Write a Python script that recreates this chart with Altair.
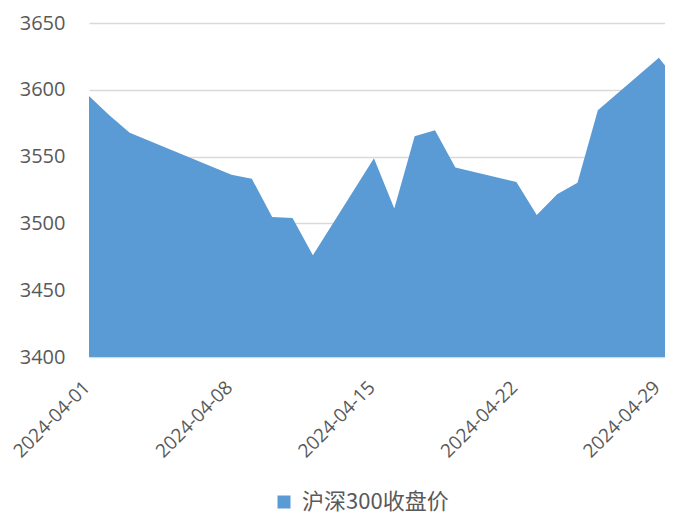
import altair as alt
import pandas as pd

dates = ["2024-04-01", "2024-04-02", "2024-04-03", "2024-04-08", "2024-04-09",
         "2024-04-10", "2024-04-11", "2024-04-12", "2024-04-15", "2024-04-16",
         "2024-04-17", "2024-04-18", "2024-04-19", "2024-04-22", "2024-04-23",
         "2024-04-24", "2024-04-25", "2024-04-26", "2024-04-29", "2024-04-30"]
closes = [3595.4, 3581.0, 3567.8, 3536.4, 3533.4,
          3504.7, 3504.0, 3476.1, 3548.8, 3511.2,
          3565.3, 3569.8, 3541.9, 3530.9, 3506.2,
          3521.9, 3530.4, 3584.7, 3623.9, 3605.0]
series_name = "沪深300收盘价"
y_ticks = [3400, 3450, 3500, 3550, 3600, 3650]
x_tick_days = [1, 8, 15, 22, 29]

df = pd.DataFrame({
    "date": [d + "T00:00:00" for d in dates],
    "close": closes,
    "series": [series_name] * len(dates),
})

x_values = [alt.DateTime(year=2024, month=4, date=d) for d in x_tick_days]

chart = alt.Chart(df).mark_area(clip=True, color="#5B9BD5", opacity=1).encode(
    x=alt.X("date:T",
            scale=alt.Scale(domain=[alt.DateTime(year=2024, month=4, date=1),
                                    alt.DateTime(year=2024, month=4, date=29, hours=7, minutes=12)]),
            axis=alt.Axis(values=x_values, format="%Y-%m-%d", title=None,
                          labelAngle=-45, labelAlign="right", labelBaseline="middle",
                          labelOffset=-2.5, labelPadding=27, labelFontSize=19,
                          labelFont="Open Sans", labelColor="#595959",
                          labelOverlap=False, labelFlush=False, labelBound=False,
                          ticks=False, domain=False, grid=False)),
    y=alt.Y("close:Q",
            scale=alt.Scale(domain=[3400, 3650], nice=False, zero=False),
            axis=alt.Axis(values=y_ticks, format="d", title=None, ticks=False, domain=False,
                          grid=True, gridColor="#D9D9D9", gridWidth=1.3,
                          labelPadding=24, labelFontSize=20, labelFont="Open Sans",
                          labelColor="#595959")),
    color=alt.Color("series:N", scale=alt.Scale(range=["#5B9BD5"]),
                    legend=alt.Legend(orient="none", legendX=184, legendY=468,
                                      title=None, symbolType="square", symbolSize=169,
                                      symbolStrokeWidth=0, labelFontSize=22,
                                      labelFont="Noto Sans CJK SC", labelColor="#595959",
                                      labelOffset=7, padding=0)),
).properties(
    width=576,
    height=334,
    background="white",
    autosize=alt.AutoSizeParams(type="none"),
    padding={"left": 81, "top": 15, "right": 0, "bottom": 159},
).configure_view(stroke=None)

chart.save("out.html", embed_options={"renderer": "svg", "actions": False})
